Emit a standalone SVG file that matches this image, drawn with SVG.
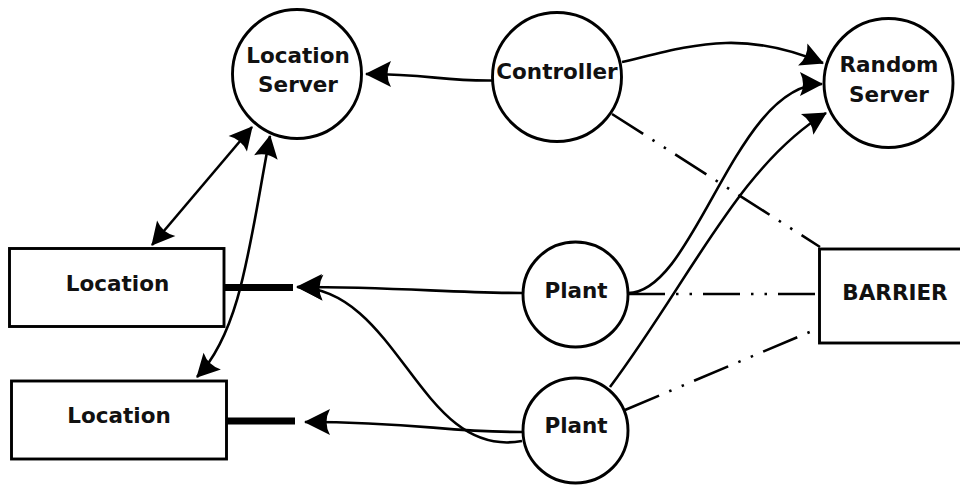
<svg xmlns="http://www.w3.org/2000/svg" width="960" height="485" viewBox="0 0 960 485">
<style>
  .node { fill: #fff; stroke: #000; stroke-width: 2.9; }
  .lbl { font-family: "DejaVu Sans", "Liberation Sans", sans-serif; font-weight: bold; font-size: 21.5px; fill: #111; text-anchor: middle; }
  .edge { fill: none; stroke: #000; stroke-width: 2.6; }
  .dd { fill: none; stroke: #000; stroke-width: 2.6; stroke-dasharray: 37 11 2.5 11 2.5 11; }
  .bar { stroke: #000; stroke-width: 7; }
</style>
<defs>
  <marker id="ah" markerUnits="userSpaceOnUse" viewBox="-28 -15 30 30" markerWidth="30" markerHeight="30" refX="0" refY="0" orient="auto-start-reverse">
    <path d="M1,0 L-25,-13 Q-18,0 -25,13 Z" fill="#000"/>
  </marker>
  <marker id="ahs" markerUnits="userSpaceOnUse" viewBox="-28 -15 30 30" markerWidth="30" markerHeight="30" refX="0" refY="0" orient="auto-start-reverse">
    <path d="M1,0 L-22,-12 Q-16,0 -22,12 Z" fill="#000"/>
  </marker>
</defs>

<g id="connectors">
  <path class="edge" d="M492,80.5 C440,81 430,74 366,74" marker-end="url(#ah)"/>
  <path class="edge" d="M622,62 C690,46 740,28 823,63" marker-end="url(#ahs)"/>
  <path class="edge" d="M628,293 C695,293 735,84 822,84" marker-end="url(#ahs)"/>
  <path class="edge" d="M610,387 C690,280 740,165 826,113" marker-end="url(#ahs)"/>
  <path class="edge" d="M522,293 C450,293 400,287 297,287" marker-end="url(#ah)"/>
  <path class="edge" d="M522,441 C420,460 400,290 298,287" marker-end="url(#ah)"/>
  <path class="edge" d="M522,432 C440,432 420,422 305,422" marker-end="url(#ah)"/>
  <path class="edge" d="M152,245 L252,127" marker-start="url(#ahs)" marker-end="url(#ahs)"/>
  <path class="edge" d="M270,136 C250,240 242,330 197,377" marker-start="url(#ahs)" marker-end="url(#ahs)"/>
  <line class="bar" x1="224" y1="287.5" x2="293" y2="287.5"/>
  <line class="bar" x1="227" y1="421" x2="295" y2="421"/>
  <path class="dd" d="M612,114 L820,247"/>
  <path class="dd" d="M628,294 L819,294"/>
  <path class="dd" d="M625,410 L812,331"/>
</g>

<g id="location-server">
  <circle class="node" cx="297" cy="74" r="64.5"/>
  <text class="lbl" x="298" y="63">Location</text>
  <text class="lbl" x="298" y="92">Server</text>
</g>
<g id="controller">
  <circle class="node" cx="557" cy="77" r="64.5"/>
  <text class="lbl" x="557" y="79">Controller</text>
</g>
<g id="random-server">
  <circle class="node" cx="888.5" cy="83" r="64.5"/>
  <text class="lbl" x="889" y="71.5">Random</text>
  <text class="lbl" x="889" y="101.5">Server</text>
</g>
<g id="location-1">
  <rect class="node" x="9.5" y="248.5" width="214.5" height="78"/>
  <text class="lbl" x="117.5" y="291">Location</text>
</g>
<g id="location-2">
  <rect class="node" x="11.5" y="381" width="215" height="78"/>
  <text class="lbl" x="119" y="422.5">Location</text>
</g>
<g id="plant-1">
  <circle class="node" cx="575.5" cy="294.5" r="52.5"/>
  <text class="lbl" x="576" y="298">Plant</text>
</g>
<g id="plant-2">
  <circle class="node" cx="575.5" cy="430.5" r="52.5"/>
  <text class="lbl" x="576" y="433">Plant</text>
</g>
<g id="barrier">
  <rect class="node" x="819.5" y="249" width="160" height="94"/>
  <text class="lbl" x="895" y="300">BARRIER</text>
</g>
</svg>
